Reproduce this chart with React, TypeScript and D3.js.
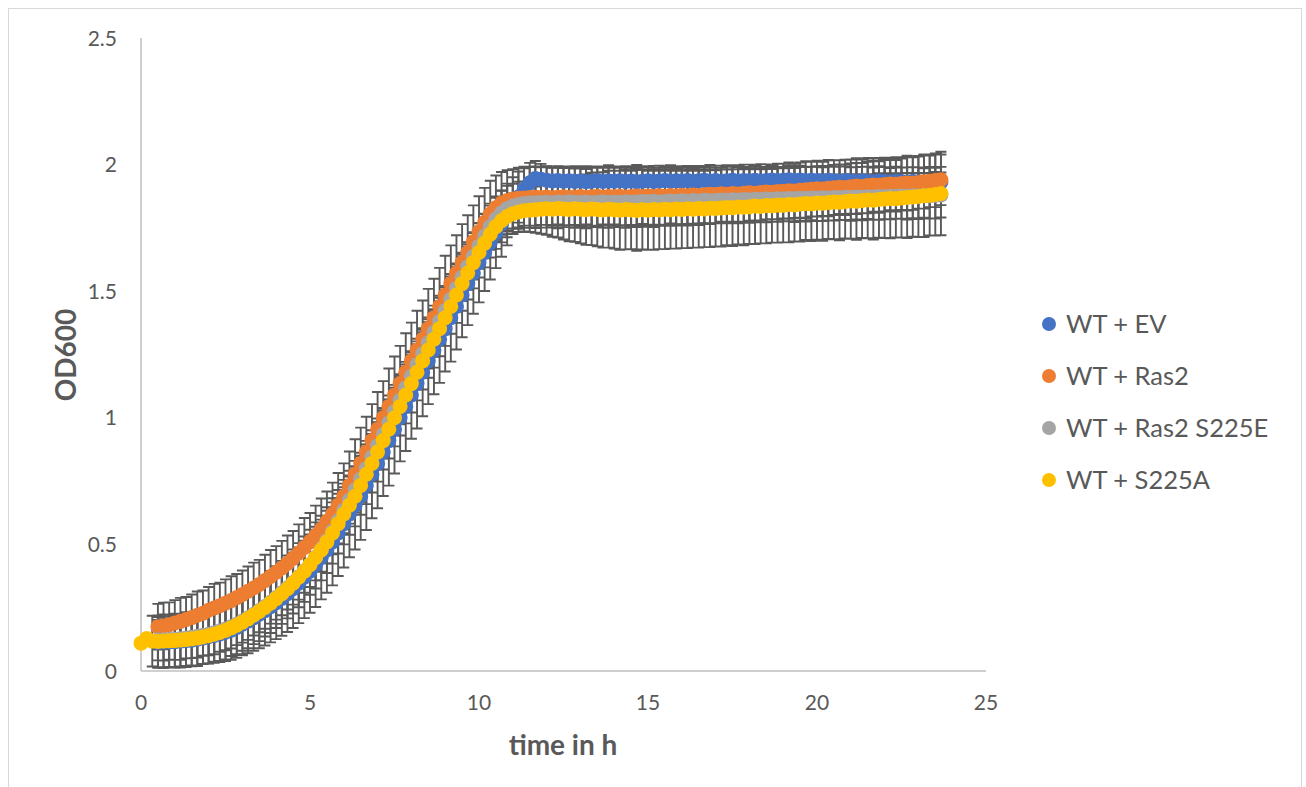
import React from 'react'
import * as d3 from 'd3'

// sampling times in minutes (every 10 min)
const minutes = [
  0, 10, 20, 30, 40, 50,
  60, 70, 80, 90, 100, 110,
  120, 130, 140, 150, 160, 170,
  180, 190, 200, 210, 220, 230,
  240, 250, 260, 270, 280, 290,
  300, 310, 320, 330, 340, 350,
  360, 370, 380, 390, 400, 410,
  420, 430, 440, 450, 460, 470,
  480, 490, 500, 510, 520, 530,
  540, 550, 560, 570, 580, 590,
  600, 610, 620, 630, 640, 650,
  660, 670, 680, 690, 700, 710,
  720, 730, 740, 750, 760, 770,
  780, 790, 800, 810, 820, 830,
  840, 850, 860, 870, 880, 890,
  900, 910, 920, 930, 940, 950,
  960, 970, 980, 990, 1000, 1010,
  1020, 1030, 1040, 1050, 1060, 1070,
  1080, 1090, 1100, 1110, 1120, 1130,
  1140, 1150, 1160, 1170, 1180, 1190,
  1200, 1210, 1220, 1230, 1240, 1250,
  1260, 1270, 1280, 1290, 1300, 1310,
  1320, 1330, 1340, 1350, 1360, 1370,
  1380, 1390, 1400, 1410, 1420,
]

// mean OD600
const wtEV = [
  null, null, null, 0.113, 0.114, 0.115,
  0.116, 0.118, 0.12, 0.122, 0.126, 0.13,
  0.135, 0.14, 0.146, 0.153, 0.161, 0.172,
  0.185, 0.197, 0.21, 0.224, 0.238, 0.254,
  0.27, 0.287, 0.305, 0.325, 0.347, 0.37,
  0.394, 0.42, 0.448, 0.478, 0.51, 0.545,
  0.582, 0.62, 0.655, 0.69, 0.733, 0.777,
  0.82, 0.865, 0.91, 0.955, 1.0, 1.045,
  1.09, 1.135, 1.18, 1.225, 1.268, 1.31,
  1.352, 1.395, 1.44, 1.485, 1.53, 1.572,
  1.613, 1.653, 1.692, 1.73, 1.767, 1.803,
  1.838, 1.872, 1.902, 1.928, 1.945, 1.942,
  1.938, 1.935, 1.937, 1.934, 1.936, 1.933,
  1.935, 1.932, 1.934, 1.936, 1.933, 1.935,
  1.934, 1.936, 1.933, 1.935, 1.932, 1.934,
  1.936, 1.933, 1.935, 1.937, 1.934, 1.936,
  1.935, 1.937, 1.934, 1.936, 1.938, 1.935,
  1.937, 1.934, 1.936, 1.938, 1.935, 1.937,
  1.936, 1.938, 1.935, 1.937, 1.939, 1.936,
  1.938, 1.94, 1.937, 1.939, 1.936, 1.938,
  1.937, 1.935, 1.938, 1.936, 1.934, 1.937,
  1.935, 1.933, 1.936, 1.934, 1.932, 1.935,
  1.933, 1.931, 1.934, 1.932, 1.93, 1.933,
  1.931, 1.929, 1.932, 1.93, 1.931,
]
const wtRas2 = [
  null, null, null, 0.175, 0.178, 0.183,
  0.19, 0.196, 0.203, 0.211, 0.22, 0.228,
  0.24, 0.249, 0.258, 0.268, 0.278, 0.29,
  0.302, 0.315, 0.328, 0.342, 0.357, 0.373,
  0.39, 0.407, 0.425, 0.445, 0.466, 0.488,
  0.51, 0.535, 0.56, 0.59, 0.62, 0.655,
  0.69, 0.733, 0.777, 0.82, 0.865, 0.91,
  0.955, 1.0, 1.045, 1.09, 1.135, 1.18,
  1.225, 1.268, 1.31, 1.352, 1.395, 1.44,
  1.485, 1.53, 1.572, 1.613, 1.653, 1.695,
  1.735, 1.772, 1.805, 1.83, 1.848, 1.858,
  1.864, 1.867, 1.868, 1.87, 1.871, 1.87,
  1.872, 1.869, 1.871, 1.873, 1.87, 1.872,
  1.874, 1.871, 1.873, 1.875, 1.872, 1.874,
  1.873, 1.875, 1.872, 1.874, 1.876, 1.874,
  1.876, 1.874, 1.877, 1.875, 1.878, 1.876,
  1.879, 1.877, 1.88, 1.878, 1.881, 1.883,
  1.882, 1.885, 1.883, 1.886, 1.884, 1.887,
  1.889, 1.887, 1.89, 1.892, 1.891, 1.894,
  1.895, 1.897, 1.896, 1.899, 1.901, 1.903,
  1.905, 1.904, 1.907, 1.909, 1.911, 1.91,
  1.913, 1.915, 1.914, 1.917, 1.919, 1.918,
  1.921, 1.923, 1.922, 1.925, 1.927, 1.926,
  1.929, 1.932, 1.934, 1.937, 1.94,
]
const wtS225E = [
  null, null, null, 0.122, 0.123, 0.124,
  0.125, 0.127, 0.13, 0.133, 0.137, 0.141,
  0.145, 0.151, 0.158, 0.166, 0.175, 0.185,
  0.197, 0.21, 0.224, 0.239, 0.255, 0.272,
  0.29, 0.309, 0.329, 0.35, 0.372, 0.396,
  0.421, 0.449, 0.48, 0.515, 0.553, 0.593,
  0.635, 0.675, 0.716, 0.758, 0.8, 0.845,
  0.89, 0.935, 0.98, 1.025, 1.07, 1.118,
  1.165, 1.21, 1.253, 1.296, 1.338, 1.38,
  1.424, 1.468, 1.512, 1.555, 1.597, 1.638,
  1.678, 1.718, 1.755, 1.785, 1.81, 1.826,
  1.836, 1.842, 1.846, 1.848, 1.849, 1.85,
  1.851, 1.849, 1.852, 1.85, 1.853, 1.851,
  1.85, 1.852, 1.849, 1.851, 1.853, 1.85,
  1.852, 1.85, 1.853, 1.851, 1.852, 1.854,
  1.853, 1.855, 1.852, 1.854, 1.856, 1.855,
  1.857, 1.855, 1.858, 1.856, 1.859, 1.857,
  1.858, 1.86, 1.859, 1.861, 1.86, 1.862,
  1.861, 1.863, 1.862, 1.864, 1.863, 1.865,
  1.864, 1.866, 1.865, 1.867, 1.866, 1.868,
  1.867, 1.869, 1.868, 1.87, 1.869, 1.871,
  1.87, 1.872, 1.871, 1.873, 1.872, 1.874,
  1.873, 1.875, 1.874, 1.876, 1.875, 1.877,
  1.876, 1.878, 1.877, 1.879, 1.88,
]
const wtS225A = [
  0.11, 0.128, 0.118, 0.117, 0.118, 0.119,
  0.12, 0.122, 0.124, 0.127, 0.13, 0.134,
  0.139, 0.145, 0.152, 0.16, 0.17, 0.181,
  0.193, 0.206, 0.22, 0.235, 0.251, 0.268,
  0.286, 0.305, 0.325, 0.347, 0.37, 0.394,
  0.42, 0.448, 0.478, 0.51, 0.545, 0.582,
  0.62, 0.655, 0.69, 0.733, 0.777, 0.82,
  0.865, 0.91, 0.955, 1.0, 1.045, 1.09,
  1.135, 1.18, 1.225, 1.268, 1.31, 1.352,
  1.395, 1.44, 1.485, 1.53, 1.572, 1.613,
  1.653, 1.69, 1.725, 1.755, 1.778, 1.795,
  1.806, 1.813, 1.818, 1.82, 1.822, 1.824,
  1.826, 1.824, 1.827, 1.825, 1.823, 1.826,
  1.824, 1.822, 1.825, 1.823, 1.821, 1.824,
  1.822, 1.82, 1.823, 1.821, 1.819, 1.822,
  1.82, 1.823, 1.821, 1.824, 1.822, 1.825,
  1.823, 1.826, 1.824, 1.827, 1.825, 1.828,
  1.827, 1.829, 1.831, 1.83, 1.833, 1.832,
  1.834, 1.836, 1.835, 1.838, 1.837, 1.84,
  1.839, 1.842, 1.841, 1.844, 1.846, 1.845,
  1.848, 1.847, 1.85, 1.852, 1.851, 1.854,
  1.856, 1.855, 1.858, 1.86, 1.859, 1.862,
  1.864, 1.866, 1.865, 1.868, 1.87, 1.872,
  1.874, 1.877, 1.879, 1.882, 1.886,
]

// standard deviations (error bars)
const sdEV = [
  null, null, null, 0.1, 0.102, 0.099,
  0.101, 0.104, 0.1, 0.103, 0.106, 0.102,
  0.105, 0.108, 0.111, 0.114, 0.117, 0.12,
  0.123, 0.127, 0.13, 0.134, 0.137, 0.141,
  0.144, 0.148, 0.151, 0.155, 0.158, 0.161,
  0.164, 0.167, 0.165, 0.169, 0.172, 0.17,
  0.173, 0.171, 0.175, 0.172, 0.176, 0.174,
  0.177, 0.174, 0.178, 0.175, 0.172, 0.176,
  0.173, 0.177, 0.174, 0.171, 0.175, 0.172,
  0.169, 0.173, 0.17, 0.167, 0.164, 0.161,
  0.157, 0.152, 0.146, 0.139, 0.131, 0.122,
  0.112, 0.101, 0.09, 0.079, 0.069, 0.061,
  0.056, 0.053, 0.055, 0.052, 0.054, 0.051,
  0.053, 0.05, 0.054, 0.051, 0.055, 0.052,
  0.054, 0.051, 0.055, 0.052, 0.05, 0.053,
  0.051, 0.054, 0.052, 0.055, 0.053, 0.05,
  0.053, 0.056, 0.052, 0.054, 0.051, 0.055,
  0.052, 0.054, 0.057, 0.053, 0.055, 0.052,
  0.055, 0.053, 0.056, 0.054, 0.052, 0.055,
  0.053, 0.056, 0.054, 0.057, 0.055, 0.053,
  0.056, 0.054, 0.057, 0.055, 0.058, 0.056,
  0.054, 0.057, 0.055, 0.058, 0.056, 0.059,
  0.057, 0.055, 0.058, 0.056, 0.059, 0.057,
  0.058, 0.056, 0.059, 0.057, 0.06,
]
const sdRas2 = [
  null, null, null, 0.09, 0.092, 0.088,
  0.09, 0.093, 0.089, 0.091, 0.094, 0.09,
  0.092, 0.095, 0.091, 0.094, 0.096, 0.093,
  0.095, 0.098, 0.1, 0.097, 0.102, 0.105,
  0.103, 0.107, 0.11, 0.108, 0.113, 0.116,
  0.114, 0.118, 0.121, 0.119, 0.124, 0.127,
  0.13, 0.134, 0.138, 0.141, 0.139, 0.144,
  0.147, 0.145, 0.15, 0.152, 0.149, 0.154,
  0.151, 0.155, 0.153, 0.157, 0.154, 0.152,
  0.155, 0.151, 0.149, 0.152, 0.147, 0.144,
  0.14, 0.136, 0.131, 0.127, 0.123, 0.12,
  0.118, 0.121, 0.117, 0.12, 0.122, 0.119,
  0.121, 0.118, 0.123, 0.12, 0.117, 0.122,
  0.119, 0.123, 0.12, 0.118, 0.121, 0.124,
  0.12, 0.117, 0.122, 0.119, 0.123, 0.12,
  0.118, 0.121, 0.119, 0.116, 0.12, 0.117,
  0.115, 0.118, 0.114, 0.117, 0.113, 0.116,
  0.114, 0.111, 0.115, 0.112, 0.11, 0.113,
  0.111, 0.108, 0.112, 0.109, 0.107, 0.11,
  0.108, 0.111, 0.107, 0.109, 0.112, 0.108,
  0.11, 0.107, 0.111, 0.108, 0.106, 0.109,
  0.107, 0.11, 0.106, 0.109, 0.105, 0.108,
  0.106, 0.103, 0.107, 0.104, 0.108, 0.105,
  0.103, 0.106, 0.102, 0.105, 0.1,
]
const sdS225E = [
  null, null, null, 0.08, 0.082, 0.079,
  0.081, 0.083, 0.08, 0.082, 0.084, 0.081,
  0.083, 0.085, 0.082, 0.084, 0.086, 0.083,
  0.085, 0.087, 0.084, 0.086, 0.088, 0.085,
  0.087, 0.089, 0.086, 0.088, 0.09, 0.087,
  0.089, 0.091, 0.088, 0.09, 0.092, 0.089,
  0.091, 0.093, 0.09, 0.092, 0.094, 0.091,
  0.093, 0.095, 0.092, 0.094, 0.096, 0.093,
  0.094, 0.092, 0.095, 0.093, 0.091, 0.094,
  0.092, 0.09, 0.093, 0.091, 0.089, 0.092,
  0.09, 0.088, 0.091, 0.089, 0.087, 0.09,
  0.088, 0.09, 0.087, 0.089, 0.091, 0.088,
  0.089, 0.091, 0.088, 0.09, 0.092, 0.089,
  0.091, 0.088, 0.09, 0.092, 0.089, 0.091,
  0.088, 0.09, 0.092, 0.089, 0.091, 0.088,
  0.09, 0.092, 0.089, 0.091, 0.088, 0.09,
  0.092, 0.089, 0.091, 0.088, 0.09, 0.092,
  0.089, 0.091, 0.088, 0.09, 0.092, 0.089,
  0.091, 0.088, 0.09, 0.092, 0.089, 0.091,
  0.088, 0.09, 0.092, 0.089, 0.091, 0.088,
  0.09, 0.092, 0.089, 0.091, 0.088, 0.09,
  0.092, 0.089, 0.091, 0.088, 0.09, 0.092,
  0.089, 0.091, 0.088, 0.09, 0.092, 0.089,
  0.091, 0.088, 0.09, 0.092, 0.089,
]
const sdS225A = [
  null, null, 0.1, 0.102, 0.105, 0.103,
  0.106, 0.104, 0.108, 0.105, 0.109, 0.107,
  0.11, 0.108, 0.112, 0.114, 0.111, 0.115,
  0.113, 0.116, 0.114, 0.117, 0.115, 0.118,
  0.116, 0.119, 0.117, 0.12, 0.118, 0.121,
  0.119, 0.122, 0.12, 0.123, 0.121, 0.118,
  0.12, 0.117, 0.119, 0.116, 0.118, 0.115,
  0.117, 0.114, 0.116, 0.113, 0.115, 0.112,
  0.114, 0.111, 0.113, 0.11, 0.112, 0.109,
  0.111, 0.108, 0.11, 0.107, 0.105, 0.102,
  0.099, 0.096, 0.092, 0.088, 0.085, 0.082,
  0.08, 0.079, 0.082, 0.086, 0.091, 0.097,
  0.103, 0.109, 0.115, 0.121, 0.126, 0.131,
  0.135, 0.139, 0.143, 0.146, 0.149, 0.152,
  0.154, 0.156, 0.158, 0.155, 0.159, 0.157,
  0.156, 0.159, 0.155, 0.158, 0.154, 0.157,
  0.153, 0.156, 0.152, 0.155, 0.151, 0.154,
  0.15, 0.153, 0.149, 0.152, 0.148, 0.151,
  0.147, 0.15, 0.146, 0.149, 0.145, 0.148,
  0.146, 0.149, 0.145, 0.148, 0.144, 0.147,
  0.145, 0.148, 0.144, 0.147, 0.15, 0.146,
  0.149, 0.152, 0.148, 0.151, 0.155, 0.151,
  0.154, 0.157, 0.153, 0.156, 0.16, 0.157,
  0.16, 0.163, 0.159, 0.162, 0.165,
]

const seriesNames = ['WT + EV', 'WT + Ras2', 'WT + Ras2 S225E', 'WT + S225A']
const seriesValues = [wtEV, wtRas2, wtS225E, wtS225A]
const seriesErrors = [sdEV, sdRas2, sdS225E, sdS225A]
const seriesColors = ['#4472C4', '#ED7D31', '#A5A5A5', '#FFC000']

const xTicks = [0, 5, 10, 15, 20, 25]
const yTicks = [0, 0.5, 1, 1.5, 2, 2.5]
const yTickLabels = ['0', '0.5', '1', '1.5', '2', '2.5']

const W = 1306
const H = 787
const font = 'Lato, "Open Sans", sans-serif'
const textColor = '#595959'

export default function App() {
  const x = d3.scaleLinear().domain([0, 25]).range([141, 986])
  const y = d3.scaleLinear().domain([0, 2.5]).range([671, 38])
  const cap = 5.5
  const r = 7.5

  const errPaths = seriesValues.map((vals, s) => {
    const p = d3.path()
    vals.forEach((v, i) => {
      const sd = seriesErrors[s][i]
      if (v == null || sd == null) return
      const cx = x(minutes[i] / 60)
      const y1 = y(v + sd)
      const y2 = y(v - sd)
      p.moveTo(cx, y1)
      p.lineTo(cx, y2)
      p.moveTo(cx - cap, y1)
      p.lineTo(cx + cap, y1)
      p.moveTo(cx - cap, y2)
      p.lineTo(cx + cap, y2)
    })
    return p.toString()
  })

  const legendY = [324, 376, 428, 480]

  return (
    <svg width={W} height={H} style={{ position: 'absolute', left: 0, top: 0 }} fontFamily={font}>
      <rect x={0} y={0} width={W} height={H} fill="#fff" />
      <rect x={8.5} y={8.5} width={1293} height={800} fill="none" stroke="#D9D9D9" strokeWidth={1} />

      {/* axes */}
      <line x1={x(0)} x2={x(0)} y1={y(2.5)} y2={y(0)} stroke="#BFBFBF" strokeWidth={1.5} />
      <line x1={x(0)} x2={x(25)} y1={y(0)} y2={y(0)} stroke="#BFBFBF" strokeWidth={1.5} />

      {yTicks.map((t, i) => (
        <text key={'y' + t} x={117} y={y(t) + 7.5} textAnchor="end" fontSize={21} fill={textColor}>
          {yTickLabels[i]}
        </text>
      ))}
      {xTicks.map((t) => (
        <text key={'x' + t} x={x(t)} y={710} textAnchor="middle" fontSize={21} fill={textColor}>
          {t}
        </text>
      ))}

      <text x={563} y={755} textAnchor="middle" fontSize={28} fontWeight="bold" fill={textColor}>
        time in h
      </text>
      <text transform={`translate(76,355) rotate(-90)`} textAnchor="middle" fontSize={28} fontWeight="bold" fill={textColor}>
        OD600
      </text>

      {/* error bars under all markers */}
      {errPaths.map((d, s) => (
        <path key={'e' + s} d={d} fill="none" stroke="#595959" strokeWidth={1.9} />
      ))}

      {seriesValues.map((vals, s) => (
        <g key={'s' + s} fill={seriesColors[s]}>
          {vals.map((v, i) =>
            v == null ? null : <circle key={i} cx={x(minutes[i] / 60)} cy={y(v)} r={r} />
          )}
        </g>
      ))}

      {/* legend */}
      {seriesNames.map((name, s) => (
        <g key={'l' + s}>
          <circle cx={1049} cy={legendY[s]} r={7} fill={seriesColors[s]} />
          <text x={1066} y={legendY[s]} dy="0.36em" fontSize={25.5} fill={textColor}>
            {name}
          </text>
        </g>
      ))}
    </svg>
  )
}
